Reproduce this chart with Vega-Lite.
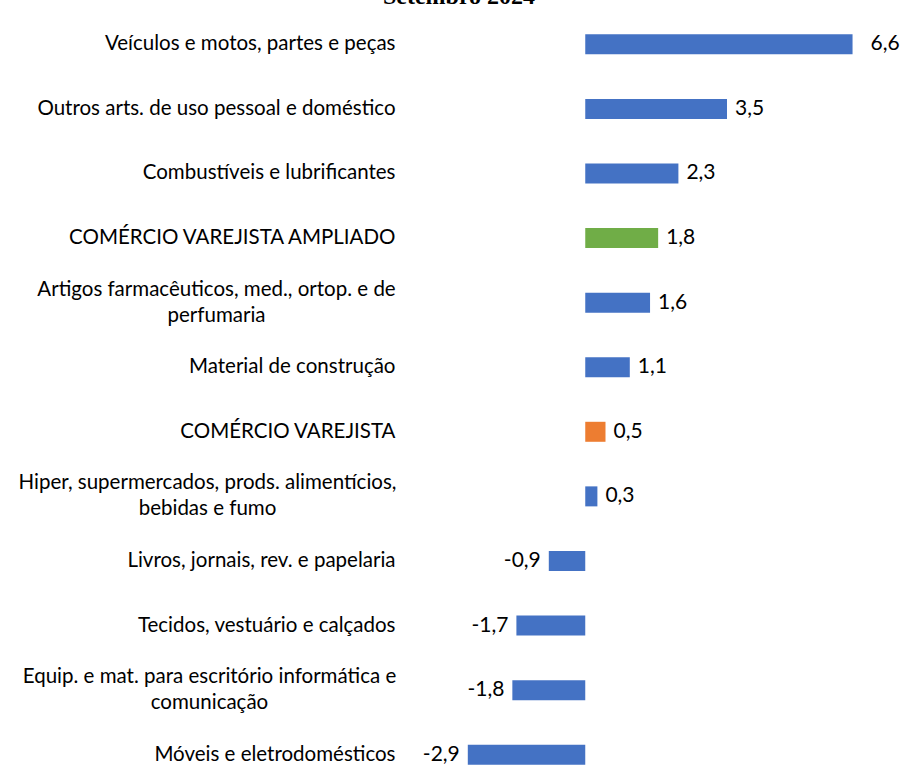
{
  "$schema": "https://vega.github.io/schema/vega-lite/v6.json",
  "autosize": {"type": "none"},
  "width": 486,
  "height": 775,
  "padding": {"top": 12, "left": 403, "right": 11, "bottom": 0},
  "background": "white",
  "title": {
    "text": "Setembro 2024",
    "font": "Liberation Serif",
    "fontSize": 24,
    "fontWeight": "bold",
    "color": "#000000",
    "anchor": "middle",
    "frame": "group",
    "dx": -187,
    "offset": 3
  },
  "config": {
    "view": {"stroke": null},
    "locale": {
      "number": {"decimal": ",", "thousands": ".", "grouping": [3], "currency": ["R$", ""], "minus": "-"}
    }
  },
  "data": {
    "values": [
      {"cat": "Veículos e motos, partes e peças", "valor": 6.6, "grupo": "atividade"},
      {"cat": "Outros arts. de uso pessoal e doméstico", "valor": 3.5, "grupo": "atividade"},
      {"cat": "Combustíveis e lubrificantes", "valor": 2.3, "grupo": "atividade"},
      {"cat": "COMÉRCIO VAREJISTA AMPLIADO", "valor": 1.8, "grupo": "ampliado"},
      {"cat": "Artigos farmacêuticos, med., ortop. e de|perfumaria", "valor": 1.6, "grupo": "atividade"},
      {"cat": "Material de construção", "valor": 1.1, "grupo": "atividade"},
      {"cat": "COMÉRCIO VAREJISTA", "valor": 0.5, "grupo": "varejista"},
      {"cat": "Hiper, supermercados, prods.  alimentícios,|bebidas e fumo", "valor": 0.3, "grupo": "atividade"},
      {"cat": "Livros, jornais, rev. e papelaria", "valor": -0.9, "grupo": "atividade"},
      {"cat": "Tecidos, vestuário e calçados", "valor": -1.7, "grupo": "atividade"},
      {"cat": "Equip. e mat. para escritório informática e|comunicação", "valor": -1.8, "grupo": "atividade"},
      {"cat": "Móveis e eletrodomésticos", "valor": -2.9, "grupo": "atividade"}
    ]
  },
  "encoding": {
    "y": {
      "field": "cat",
      "type": "nominal",
      "sort": null,
      "scale": {"paddingInner": 0.69, "paddingOuter": 0.345},
      "axis": {
        "title": null,
        "domain": false,
        "ticks": false,
        "labelExpr": "split(datum.label, '|')",
        "labelFont": "Lato",
        "labelFontSize": 20.5,
        "labelColor": "#000000",
        "labelLimit": 500,
        "labelLineHeight": 26,
        "labelBaseline": "middle",
        "labelAlign": {"condition": {"test": "indexof(datum.value, '|') >= 0", "value": "center"}, "value": "right"},
        "labelPadding": {"condition": [
          {"test": "indexof(datum.value, 'Artigos') == 0", "value": 187},
          {"test": "indexof(datum.value, 'Hiper') == 0", "value": 196},
          {"test": "indexof(datum.value, 'Equip') == 0", "value": 194}
        ], "value": 8},
        "labelOffset": {"condition": {"test": "indexof(datum.value, '|') >= 0", "value": -13}, "value": 0}
      }
    }
  },
  "layer": [
    {
      "mark": {"type": "bar", "size": 20},
      "encoding": {
        "x": {
          "field": "valor",
          "type": "quantitative",
          "scale": {"domain": [-4.5, 7.5], "nice": false},
          "axis": null
        },
        "color": {
          "field": "grupo",
          "type": "nominal",
          "scale": {"domain": ["atividade", "ampliado", "varejista"], "range": ["#4472C4", "#70AD47", "#ED7D31"]},
          "legend": null
        }
      }
    },
    {
      "mark": {"type": "rule", "color": "#d0d0d0", "strokeWidth": 1},
      "encoding": {"x": {"datum": 0}}
    },
    {
      "transform": [{"filter": "datum.valor >= 0 && datum.valor < 6"}],
      "mark": {"type": "text", "align": "left", "baseline": "middle", "dx": 8, "font": "Lato", "fontSize": 21, "color": "#000000"},
      "encoding": {
        "x": {"field": "valor", "type": "quantitative"},
        "text": {"field": "valor", "type": "quantitative", "format": ".1f"}
      }
    },
    {
      "transform": [{"filter": "datum.valor >= 6"}],
      "mark": {"type": "text", "align": "left", "baseline": "middle", "dx": 18, "font": "Lato", "fontSize": 21, "color": "#000000"},
      "encoding": {
        "x": {"field": "valor", "type": "quantitative"},
        "text": {"field": "valor", "type": "quantitative", "format": ".1f"}
      }
    },
    {
      "transform": [{"filter": "datum.valor < 0"}],
      "mark": {"type": "text", "align": "right", "baseline": "middle", "dx": -8, "font": "Lato", "fontSize": 21, "color": "#000000"},
      "encoding": {
        "x": {"field": "valor", "type": "quantitative"},
        "text": {"field": "valor", "type": "quantitative", "format": ".1f"}
      }
    }
  ]
}
